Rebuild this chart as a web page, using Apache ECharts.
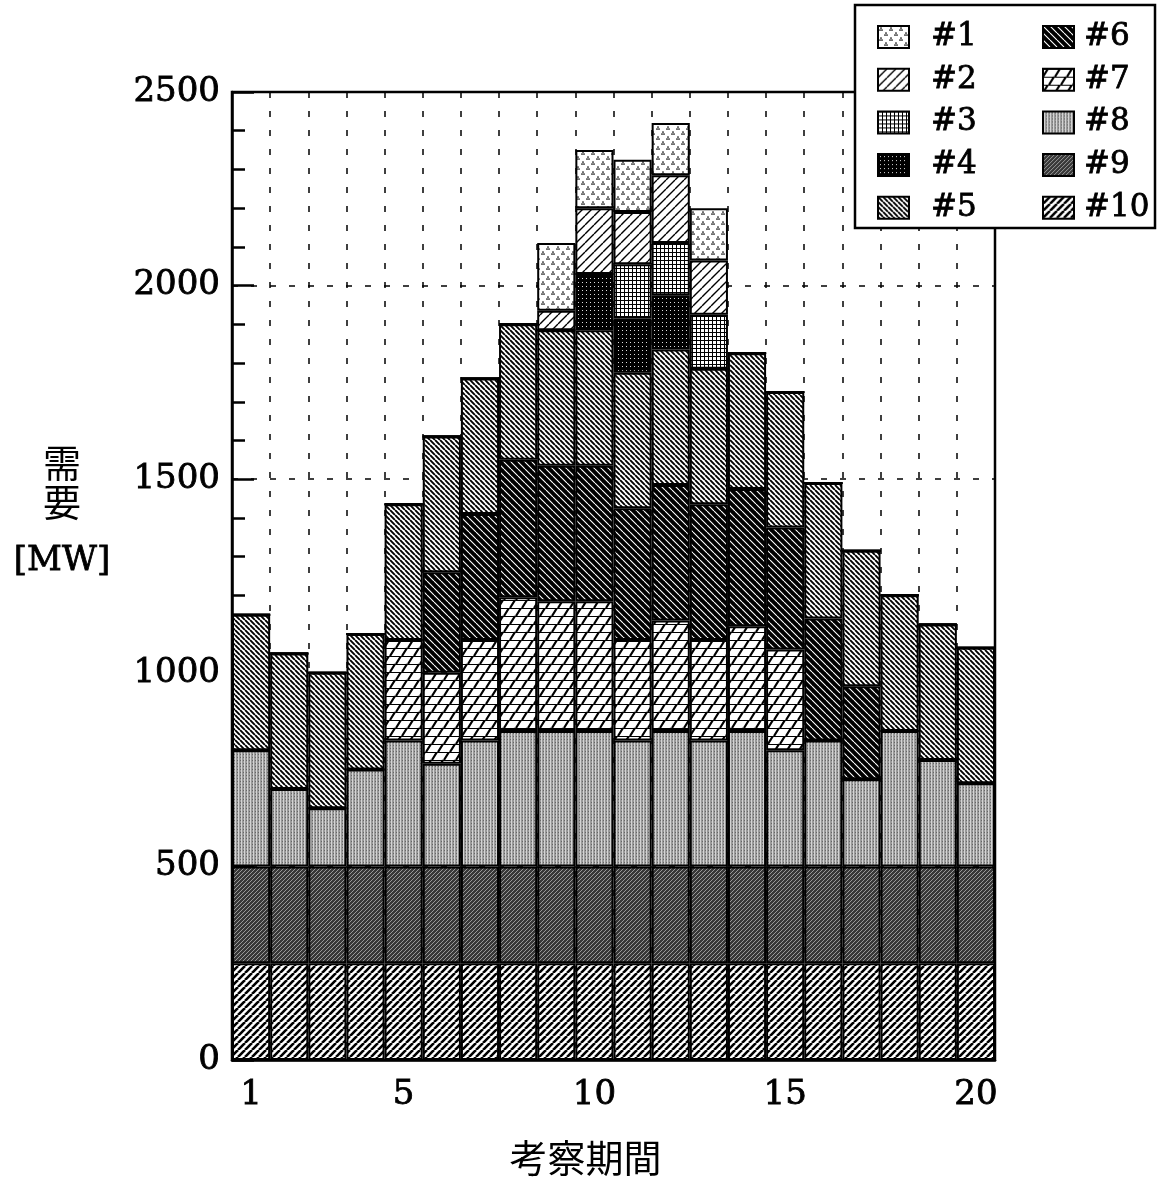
<!DOCTYPE html>
<html>
<head>
<meta charset="utf-8">
<script src="https://cdn.jsdelivr.net/npm/echarts@6/dist/echarts.min.js"></script>
<style>
  html, body { margin: 0; background: #fff; }
  #main { width: 1161px; height: 1183px; }
</style>
</head>
<body>
<div id="main"></div>
<script>
// 考察期間 1..20
const periods = ['1','2','3','4','5','6','7','8','9','10','11','12','13','14','15','16','17','18','19','20'];
const tickLabels = ['1', '5', '10', '15', '20'];

// 各ユニットの出力 [MW]（下から #10 → #1 の順に積み上げ）
const unit10 = [250,250,250,250,250,250,250,250,250,250,250,250,250,250,250,250,250,250,250,250];
const unit9  = [250,250,250,250,250,250,250,250,250,250,250,250,250,250,250,250,250,250,250,250];
const unit8  = [300,200,150,250,325,265,325,350,350,350,325,350,325,350,300,325,225,350,275,215];
const unit7  = [0,0,0,0,260,235,260,345,335,335,260,285,260,270,260,0,0,0,0,0];
const unit6  = [0,0,0,0,0,260,325,355,350,350,340,350,350,355,315,315,240,0,0,0];
const unit5  = [350,350,350,350,350,350,350,350,350,350,350,350,350,350,350,350,350,350,350,350];
const unit4  = [0,0,0,0,0,0,0,0,0,145,140,140,0,0,0,0,0,0,0,0];
const unit3  = [0,0,0,0,0,0,0,0,0,0,140,135,140,0,0,0,0,0,0,0];
const unit2  = [0,0,0,0,0,0,0,0,50,170,135,175,140,0,0,0,0,0,0,0];
const unit1  = [0,0,0,0,0,0,0,0,175,150,135,135,135,0,0,0,0,0,0,0];

// hatch tiles
function tile(w, h, draw) {
  const c = document.createElement('canvas');
  c.width = w; c.height = h;
  const ctx = c.getContext('2d');
  draw(ctx, w, h);
  return { image: c, repeat: 'repeat' };
}
function hatch(ctx, n, dir, color, width) {
  ctx.strokeStyle = color;
  ctx.lineWidth = width;
  ctx.beginPath();
  for (let k = -1; k <= 1; k++) {
    if (dir > 0) { ctx.moveTo(k * n, n); ctx.lineTo(k * n + n, 0); }
    else { ctx.moveTo(k * n, 0); ctx.lineTo(k * n + n, n); }
  }
  ctx.stroke();
}

const pat1 = tile(10, 10, function (ctx) {
  ctx.fillStyle = '#fff'; ctx.fillRect(0, 0, 10, 10);
  ctx.fillStyle = '#000';
  [[3, 3], [8, 8]].forEach(function (p) {
    [[-1, 1], [1, 1], [0, -1]].forEach(function (d) {
      ctx.beginPath(); ctx.arc(p[0] + d[0], p[1] + d[1], 0.85, 0, Math.PI * 2); ctx.fill();
    });
  });
});
const pat2 = tile(9, 9, function (ctx) {
  ctx.fillStyle = '#fff'; ctx.fillRect(0, 0, 9, 9);
  hatch(ctx, 9, 1, '#000', 1.4);
});
const pat3 = tile(4, 4, function (ctx) {
  ctx.fillStyle = '#fff'; ctx.fillRect(0, 0, 4, 4);
  ctx.fillStyle = '#000'; ctx.fillRect(0, 0, 4, 1); ctx.fillRect(0, 0, 1, 4);
});
const pat4 = tile(4, 4, function (ctx) {
  ctx.fillStyle = '#000'; ctx.fillRect(0, 0, 4, 4);
  ctx.fillStyle = '#ddd'; ctx.fillRect(2, 2, 1, 1);
});
const pat5 = tile(5, 5, function (ctx) {
  ctx.fillStyle = '#fff'; ctx.fillRect(0, 0, 5, 5);
  hatch(ctx, 5, -1, '#000', 1.9);
});
const pat6 = tile(7, 7, function (ctx) {
  ctx.fillStyle = '#000'; ctx.fillRect(0, 0, 7, 7);
  hatch(ctx, 7, -1, '#fff', 1.1);
});
const pat7 = tile(12, 16, function (ctx) {
  ctx.fillStyle = '#fff'; ctx.fillRect(0, 0, 12, 16);
  ctx.strokeStyle = '#000';
  ctx.lineWidth = 1.2;
  ctx.beginPath();
  ctx.moveTo(0, 0.5); ctx.lineTo(12, 0.5);
  ctx.moveTo(0, 8.5); ctx.lineTo(12, 8.5);
  ctx.stroke();
  ctx.lineWidth = 2.2;
  ctx.beginPath();
  ctx.moveTo(0, 8); ctx.lineTo(5, 0);
  ctx.moveTo(12, 8); ctx.lineTo(17, 0);
  ctx.moveTo(6, 16); ctx.lineTo(11, 8);
  ctx.moveTo(-6, 16); ctx.lineTo(-1, 8);
  ctx.stroke();
});
const pat8 = tile(3, 3, function (ctx) {
  ctx.fillStyle = '#9a9a9a'; ctx.fillRect(0, 0, 3, 3);
  ctx.fillStyle = '#d4d4d4'; ctx.fillRect(1, 0, 1, 3);
  ctx.fillStyle = '#666'; ctx.fillRect(0, 1, 1, 1);
});
const pat9 = tile(4, 4, function (ctx) {
  ctx.fillStyle = '#383838'; ctx.fillRect(0, 0, 4, 4);
  hatch(ctx, 4, 1, '#999', 1);
});
const pat10 = tile(7, 7, function (ctx) {
  ctx.fillStyle = '#fff'; ctx.fillRect(0, 0, 7, 7);
  hatch(ctx, 7, 1, '#000', 2.6);
});

const units = [
  ['#10', unit10, pat10], ['#9', unit9, pat9], ['#8', unit8, pat8], ['#7', unit7, pat7],
  ['#6', unit6, pat6], ['#5', unit5, pat5], ['#4', unit4, pat4], ['#3', unit3, pat3],
  ['#2', unit2, pat2], ['#1', unit1, pat1]
];

const serif = 'DejaVu Serif';
const cjk = 'Noto Sans CJK JP';
const dash = [6, 13];
// slight stroke to mimic the heavy printed digits
const ink = { color: '#000', textBorderColor: '#000', textBorderWidth: 0.8 };

const series = units.map(function (u) {
  return {
    name: u[0],
    type: 'bar',
    stack: 'demand',
    barCategoryGap: '0%',
    data: u[1],
    itemStyle: { color: u[2], borderColor: '#000', borderWidth: 2 }
  };
});

const legendText = Object.assign({ fontFamily: serif, fontSize: 31, lineHeight: 32 }, ink);

const chart = echarts.init(document.getElementById('main'));
chart.setOption({
  animation: false,
  backgroundColor: '#fff',
  grid: {
    left: 232, right: 166, top: 92, bottom: 123,
    show: true, borderColor: '#000', borderWidth: 2.5
  },
  graphic: [{
    type: 'rect', z: 5,
    shape: { x: 855, y: 5, width: 300, height: 223 },
    style: { fill: '#fff', stroke: '#000', lineWidth: 2.5 }
  }],
  legend: [{
    data: ['#1', '#2', '#3', '#4', '#5'],
    orient: 'vertical', left: 877, top: 21, padding: 0, z: 10,
    icon: 'rect', itemWidth: 31, itemHeight: 22, itemGap: 10.7,
    textStyle: Object.assign({ padding: [0, 0, 0, 17] }, legendText)
  }, {
    data: ['#6', '#7', '#8', '#9', '#10'],
    orient: 'vertical', left: 1042, top: 21, padding: 0, z: 10,
    icon: 'rect', itemWidth: 31, itemHeight: 22, itemGap: 10.7,
    textStyle: Object.assign({ padding: [0, 0, 0, 5] }, legendText)
  }],
  xAxis: {
    type: 'category',
    data: periods,
    name: '考察期間',
    nameLocation: 'middle',
    nameGap: 78,
    nameTextStyle: { fontFamily: cjk, fontSize: 38, lineHeight: 40, color: '#000', padding: [0, 56, 0, 0] },
    axisLine: { lineStyle: { color: '#000', width: 2.5 } },
    axisTick: { show: false },
    axisLabel: Object.assign({
      interval: function (i, v) { return tickLabels.indexOf(v) >= 0; },
      fontFamily: serif, fontSize: 34, lineHeight: 34, margin: 18
    }, ink),
    splitLine: { show: true, interval: 0, lineStyle: { color: '#000', width: 1.5, type: dash } }
  },
  yAxis: {
    type: 'value',
    min: 0, max: 2500, interval: 500,
    name: '{c|需}\n{c|要}\n{m|[MW]}',
    nameLocation: 'middle',
    nameRotate: 0,
    nameGap: 170,
    nameTextStyle: {
      align: 'center', verticalAlign: 'middle', padding: [0, 0, 108, 0],
      rich: {
        c: { fontFamily: cjk, fontSize: 38, lineHeight: 39, color: '#000', align: 'center' },
        m: Object.assign({ fontFamily: serif, fontSize: 34, lineHeight: 80, align: 'center' }, ink)
      }
    },
    axisLine: { show: true, lineStyle: { color: '#000', width: 2.5 } },
    axisTick: { show: true, inside: true, length: 22, lineStyle: { color: '#000', width: 2.5 } },
    minorTick: { show: true, splitNumber: 5, length: 13, lineStyle: { color: '#000', width: 2.5 } },
    axisLabel: Object.assign({
      formatter: function (v) { return String(v); },
      fontFamily: serif, fontSize: 34, margin: 12
    }, ink),
    splitLine: { show: true, lineStyle: { color: '#000', width: 1.5, type: dash } }
  },
  series: series
});
</script>
</body>
</html>
